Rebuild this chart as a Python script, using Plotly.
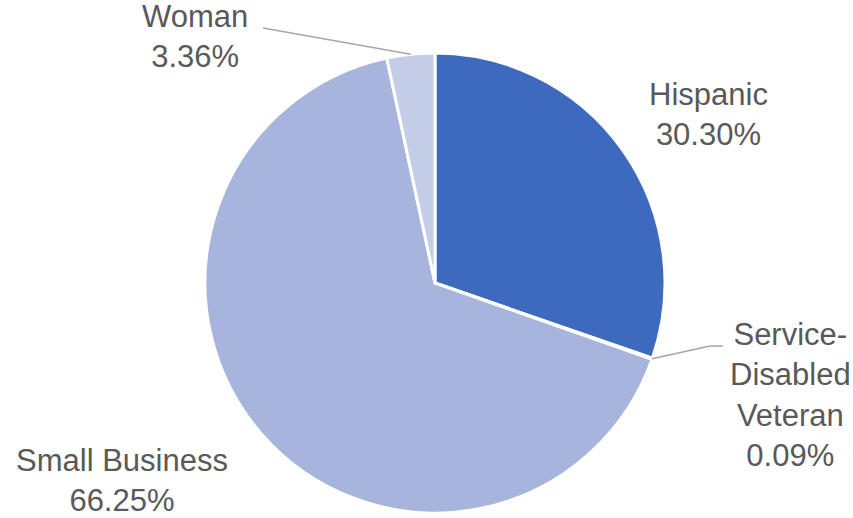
import math
import plotly.graph_objects as go

# Share of spend by business category (percent)
categories = ["Hispanic", "Service-Disabled Veteran", "Small Business", "Woman"]
shares = [30.30, 0.09, 66.25, 3.36]
label_lines = [["Hispanic"], ["Service-", "Disabled", "Veteran"], ["Small Business"], ["Woman"]]
colors = ["#3E6ABD", "#7F97D0", "#A7B4DB", "#C4CDE8"]

W, H = 853, 518
cx, cy, r = 435, 283, 230  # pie centre and radius in pixels (top-left origin)

fig = go.Figure(go.Pie(
    labels=categories,
    values=shares,
    sort=False,
    direction="clockwise",
    rotation=0,
    textinfo="none",
    hoverinfo="label+percent",
    marker=dict(colors=colors, line=dict(color="white", width=3)),
    domain=dict(x=[(cx - r) / W, (cx + r) / W],
                y=[(H - cy - r) / H, (H - cy + r) / H]),
    showlegend=False,
))

def px(x):
    return x / W

def py(y):
    return 1 - y / H

# label text centres (pixels) and optional leader elbow
label_pos = {
    "Hispanic": (708, 114),
    "Service-Disabled Veteran": (790, 395),
    "Small Business": (122, 480),
    "Woman": (195, 37),
}
leader_end = {
    "Service-Disabled Veteran": [(710, 346), (723, 346)],
    "Woman": [(263, 28)],
}

total = sum(shares)
cum = 0.0
for cat, val, lines in zip(categories, shares, label_lines):
    mid = (cum + val / 2) / total * 2 * math.pi
    cum += val
    text = "<br>".join(lines + [f"{val:.2f}%"])
    lx, ly = label_pos[cat]
    fig.add_annotation(
        x=px(lx), y=py(ly), xref="paper", yref="paper",
        text=text, showarrow=False, align="center",
        xanchor="center", yanchor="middle",
        font=dict(family="Liberation Sans, Arial, sans-serif", size=31, color="#595959"),
    )
    if cat in leader_end:
        sx = cx + r * math.sin(mid)
        sy = cy - r * math.cos(mid)
        pts = [(sx, sy)] + leader_end[cat]
        for (x0, y0), (x1, y1) in zip(pts[:-1], pts[1:]):
            fig.add_shape(type="line", xref="paper", yref="paper",
                          x0=px(x0), y0=py(y0), x1=px(x1), y1=py(y1),
                          line=dict(color="#A6A6A6", width=1.5))

fig.update_layout(
    width=W, height=H,
    margin=dict(l=0, r=0, t=0, b=0),
    paper_bgcolor="white",
    plot_bgcolor="white",
)

fig.write_html("out.html")
